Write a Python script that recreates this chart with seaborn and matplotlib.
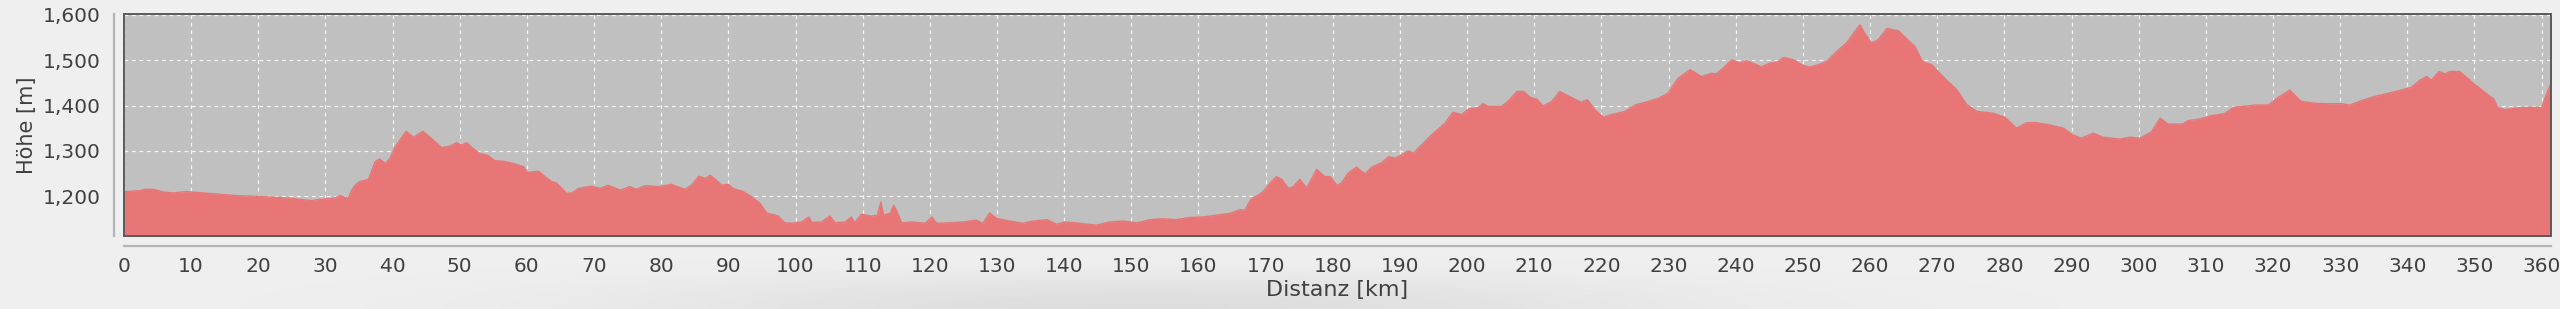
import numpy as np
import pandas as pd
import matplotlib
matplotlib.use("Agg")
import matplotlib.pyplot as plt
from matplotlib.patches import Rectangle
from matplotlib.ticker import FuncFormatter
import seaborn as sns

distance_km = [
    0.0, 0.15, 2.4, 3.1, 4.4, 5.9, 7.3, 9.3, 11.8, 14.3, 16.8, 19.3, 21.7, 24.2, 26.2, 27.9,
    29.2, 31.2, 32.2, 33.4, 33.9, 34.4, 35.1, 36.4, 37.4, 38.1, 38.9, 39.6, 40.3, 41.1, 42.0,
    43.1, 44.5, 45.8, 47.3, 48.5, 49.5, 50.3, 51.0, 52.0, 53.0, 54.2, 55.2, 56.5, 58.0, 59.5,
    60.0, 61.7, 62.7, 63.7, 64.4, 65.2, 65.9, 66.7, 67.7, 69.6, 70.9, 72.1, 73.9, 75.3, 76.3,
    77.6, 79.6, 81.5, 83.5, 84.5, 85.6, 86.5, 87.3, 88.2, 89.0, 90.0, 90.7, 92.2, 93.5, 94.7,
    95.7, 97.4, 98.4, 99.4, 100.9, 102.0, 102.4, 103.9, 105.1, 105.9, 107.4, 108.3, 108.8,
    109.8, 111.3, 112.2, 112.7, 113.1, 114.1, 114.6, 115.0, 115.8, 117.3, 119.3, 120.3,
    121.0, 123.0, 125.0, 126.9, 127.9, 128.9, 129.9, 131.9, 133.9, 134.9, 137.4, 138.9,
    140.1, 142.3, 144.8, 146.8, 148.8, 150.8, 152.8, 154.7, 156.7, 158.7, 160.7, 162.7,
    164.7, 166.2, 166.9, 167.9, 168.9, 169.6, 170.6, 171.6, 172.4, 173.4, 174.1, 175.1,
    176.1, 177.6, 178.8, 179.6, 180.6, 181.3, 182.3, 183.5, 184.8, 185.8, 187.3, 188.3,
    189.3, 190.3, 191.2, 192.0, 193.2, 194.7, 195.7, 196.7, 197.9, 199.2, 200.2, 201.7,
    202.4, 203.1, 205.1, 206.1, 207.4, 208.4, 209.4, 210.4, 211.3, 212.6, 213.8, 215.1,
    217.0, 217.9, 219.0, 220.3, 221.5, 223.5, 225.0, 227.0, 228.5, 229.9, 231.4, 233.2,
    234.9, 236.4, 237.1, 238.4, 239.4, 240.6, 241.6, 242.8, 243.8, 245.1, 246.1, 247.1,
    248.6, 250.1, 251.0, 252.3, 253.5, 255.0, 256.5, 257.7, 258.5, 259.2, 260.2, 261.2,
    262.5, 264.2, 265.4, 266.7, 267.8, 269.2, 270.4, 271.6, 272.9, 274.4, 275.9, 278.3,
    280.1, 281.8, 283.3, 284.8, 286.8, 288.8, 290.2, 291.5, 293.2, 294.7, 297.2, 298.7,
    300.2, 301.9, 303.2, 304.4, 306.6, 307.4, 309.1, 310.6, 312.8, 314.1, 315.6, 317.3,
    319.3, 320.8, 322.5, 324.2, 326.2, 328.2, 330.2, 331.4, 333.2, 335.4, 337.2, 339.1,
    340.6, 341.9, 342.9, 343.6, 344.7, 345.6, 346.3, 347.8, 350.1, 352.5, 352.8, 353.5,
    354.5, 356.5, 358.5, 360.0, 360.5, 361.3,
]
elevation_m = [
    1206, 1210, 1212, 1215, 1215, 1209, 1207, 1210, 1207, 1204, 1201, 1200, 1198, 1196, 1193, 1190,
    1193, 1195, 1201, 1195, 1213, 1224, 1232, 1237, 1276, 1282, 1272, 1283, 1307, 1324, 1343,
    1330, 1343, 1327, 1307, 1310, 1318, 1313, 1318, 1305, 1294, 1290, 1278, 1277, 1272, 1265,
    1252, 1255, 1243, 1232, 1229, 1217, 1206, 1207, 1217, 1222, 1217, 1224, 1213, 1221, 1215,
    1223, 1221, 1226, 1215, 1224, 1244, 1239, 1246, 1235, 1224, 1226, 1217, 1210, 1198, 1184,
    1163, 1156, 1141, 1140, 1143, 1154, 1142, 1143, 1156, 1141, 1143, 1154, 1141,
    1160, 1156, 1158, 1187, 1158, 1162, 1180, 1169, 1141, 1143, 1140, 1154,
    1140, 1141, 1143, 1147, 1140, 1163, 1151, 1145, 1140, 1144, 1148, 1138,
    1143, 1140, 1136, 1143, 1145, 1141, 1148, 1150, 1148, 1153, 1154, 1158,
    1162, 1170, 1169, 1195, 1202, 1210, 1228, 1243, 1237, 1217, 1221, 1237,
    1218, 1259, 1243, 1243, 1224, 1229, 1251, 1264, 1249, 1264, 1274, 1287,
    1284, 1291, 1300, 1295, 1313, 1335, 1348, 1361, 1385, 1380, 1392, 1396,
    1404, 1398, 1398, 1409, 1431, 1431, 1418, 1414, 1399, 1409, 1431, 1421,
    1407, 1413, 1391, 1374, 1380, 1387, 1401, 1409, 1416, 1427, 1460, 1479,
    1464, 1471, 1470, 1486, 1501, 1494, 1499, 1492, 1485, 1494, 1495, 1506,
    1501, 1488, 1485, 1490, 1497, 1519, 1538, 1563, 1578, 1560, 1538, 1545,
    1570, 1565, 1548, 1530, 1497, 1490, 1471, 1453, 1435, 1402, 1387, 1383,
    1374, 1350, 1362, 1362, 1357, 1350, 1335, 1328, 1339, 1330, 1326, 1330,
    1328, 1342, 1372, 1359, 1359, 1367, 1370, 1377, 1382, 1396, 1398, 1401,
    1401, 1418, 1434, 1409, 1405, 1404, 1404, 1401, 1411, 1421, 1427, 1434,
    1440, 1456, 1464, 1456, 1475, 1470, 1475, 1475, 1446, 1418, 1416, 1395,
    1391, 1395, 1396, 1395, 1416, 1446,
]
x_ticks = list(range(0, 361, 10))
y_ticks = [1200, 1300, 1400, 1500, 1600]
x_label = "Distanz [km]"
y_label = "Höhe [m]"

df = pd.DataFrame({"dist": distance_km, "elev": elevation_m})

# ---- styling ----
sns.set_style("white")
plt.rcParams["font.family"] = ["DejaVu Sans"]

fill_color = "#e87676"
text_color = "#404040"

W, H = 2560, 309
fig = plt.figure(figsize=(W / 100, H / 100), dpi=100, facecolor="#efefef")

# soft shadow at the bottom of the panel (decorative background)
bg = fig.add_axes([0, 0, 1, 1], zorder=-10)
bg.set_axis_off()
gx = np.linspace(0, W, 640)[None, :]
gy = np.linspace(0, H, 160)[:, None]
shade = 0.075 * np.exp(-((gx - 1150) / 520) ** 2) / (1 + np.exp(-(gy - 282) / 9))
bg.imshow(0.937 - shade, cmap="gray", vmin=0, vmax=1, aspect="auto",
          extent=[0, W, H, 0], interpolation="bilinear")
bg.set_xlim(0, W)
bg.set_ylim(H, 0)

ax = fig.add_axes([124 / W, 1 - 236 / H, (2551 - 124) / W, (236 - 14) / H])
ax.set_facecolor("#c0c0c0")

ax.fill_between(df["dist"], df["elev"], 1000, color=fill_color, linewidth=0, zorder=2)
sns.lineplot(data=df, x="dist", y="elev", ax=ax, color=fill_color, linewidth=1.0,
             estimator=None, sort=False, zorder=3)

ax.set_xlim(0, 361.4)
ax.set_ylim(1112, 1602)
ax.set_xticks(x_ticks)
ax.set_yticks(y_ticks)
ax.yaxis.set_major_formatter(FuncFormatter(lambda v, p: f"{int(v):,}"))

ax.grid(True, color="#f4f4f4", linestyle=(0, (3, 3)), linewidth=0.9, zorder=1)
ax.set_axisbelow(True)

for side in ["top", "right"]:
    ax.spines[side].set_visible(False)
for side in ["left", "bottom"]:
    ax.spines[side].set_position(("outward", 7))
    ax.spines[side].set_color("#b4b4b4")
    ax.spines[side].set_linewidth(1.6)

ax.tick_params(axis="both", which="major", length=3, width=1, color="#a0a0a0",
               labelsize=14.5, labelcolor=text_color, direction="out")
ax.tick_params(axis="y", pad=7)
ax.tick_params(axis="x", pad=5)

# plot border
ax.add_patch(Rectangle((0, 0), 1, 1, transform=ax.transAxes, fill=False,
                       edgecolor="#5a5a5a", linewidth=1.4, zorder=5, clip_on=False))

ax.set_xlabel(x_label, fontsize=16, color=text_color, labelpad=3)
ax.set_ylabel(y_label, fontsize=15, color=text_color, labelpad=4)

fig.savefig("out.png", dpi=100, facecolor=fig.get_facecolor())
